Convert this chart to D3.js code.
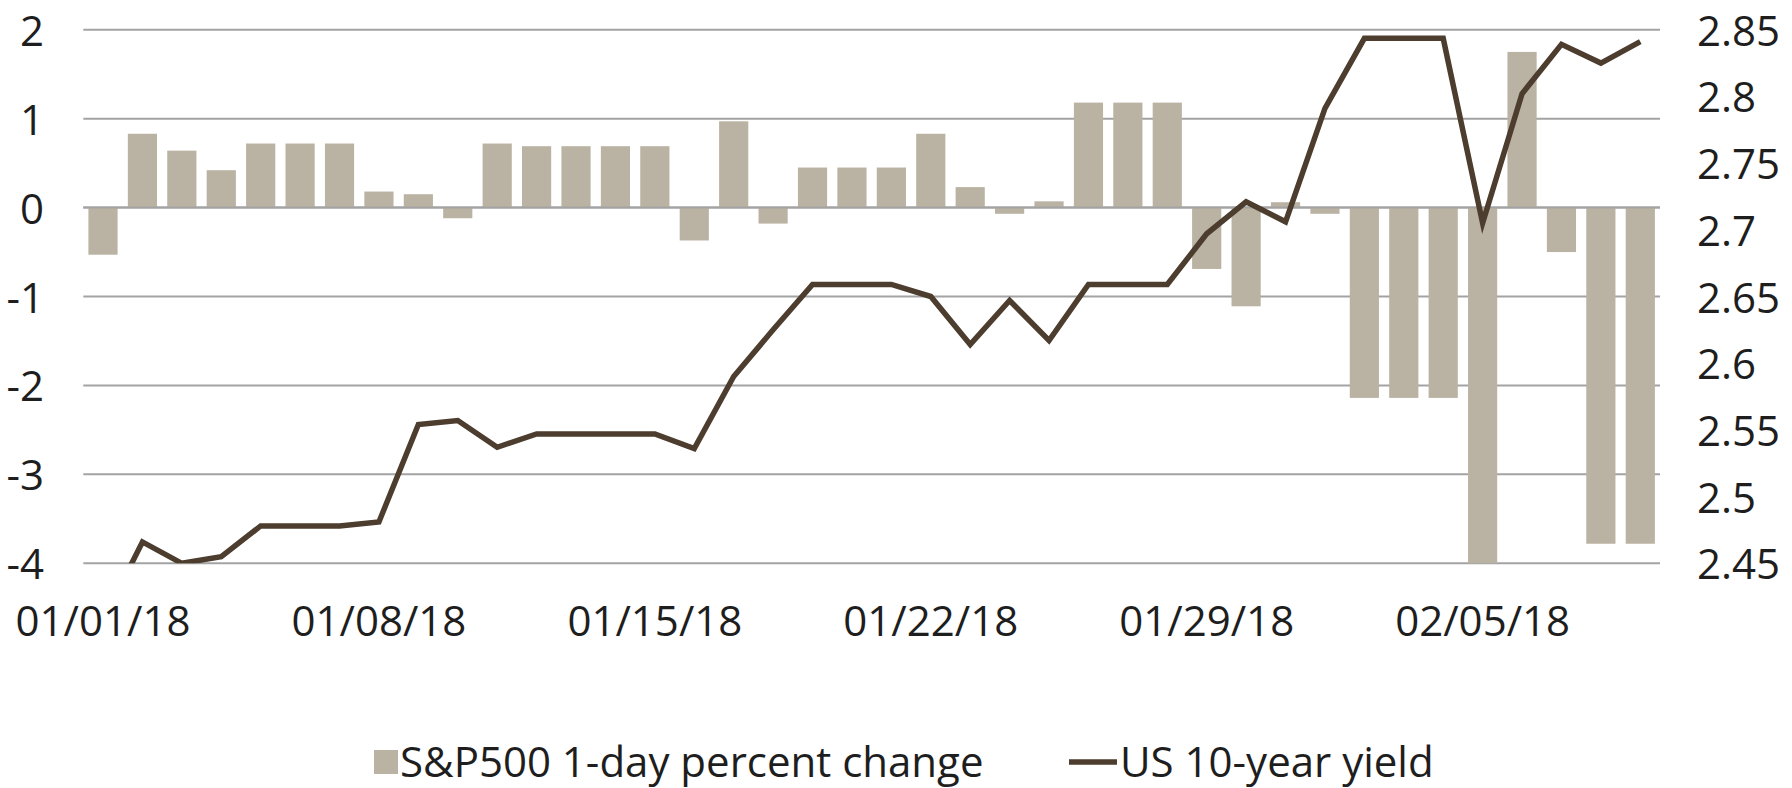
<!DOCTYPE html>
<html>
<head>
<meta charset="utf-8">
<script src="https://cdn.jsdelivr.net/npm/d3@7"></script>
<style>
  body { margin: 0; background: #fff; }
  svg text { font-family: "Open Sans", sans-serif; fill: #1e1e1e; }
</style>
</head>
<body>
<script>
// daily series, 01/01/18 .. 02/09/18
const dates = d3.timeDay.range(new Date(2018, 0, 1), new Date(2018, 1, 10))
const tickLabels = ['01/01/18', '01/08/18', '01/15/18', '01/22/18', '01/29/18', '02/05/18']

const spChange = [
  -0.53, 0.83, 0.64, 0.42, 0.72, 0.72, 0.72, 0.18, 0.15, -0.12,
  0.72, 0.69, 0.69, 0.69, 0.69, -0.37, 0.97, -0.18, 0.45, 0.45,
  0.45, 0.83, 0.23, -0.07, 0.07, 1.18, 1.18, 1.18, -0.69, -1.11,
  0.06, -0.07, -2.14, -2.14, -2.14, -4.1, 1.75, -0.50, -3.78, -3.78
]
const usYield = [
  2.407, 2.466, 2.45, 2.455, 2.478, 2.478, 2.478, 2.481, 2.554, 2.557,
  2.537, 2.547, 2.547, 2.547, 2.547, 2.536, 2.590, 2.625, 2.659, 2.659,
  2.659, 2.650, 2.614, 2.647, 2.617, 2.659, 2.659, 2.659, 2.697, 2.721,
  2.706, 2.791, 2.8435, 2.8435, 2.8435, 2.705, 2.802, 2.839, 2.825, 2.841
]
const leftTicks = [2, 1, 0, -1, -2, -3, -4]
const rightTicks = [2.85, 2.8, 2.75, 2.7, 2.65, 2.6, 2.55, 2.5, 2.45]

const legendItems = ['S&P500 1-day percent change', 'US 10-year yield']

var config = {
  width: 1792,
  height: 788,
  left: 83.3,
  right: 1660,
  top: 29.7,
  bottom: 563.3,
  barColor: '#bab2a2',
  lineColor: '#4c3d2e',
  gridColor: '#a3a3a3',
  fontSize: 42,
}

const fmt = d3.timeFormat('%m/%d/%y')
const cats = dates.map(fmt)

var svg = d3.select('body').append('svg')
  .attr('width', config.width)
  .attr('height', config.height)

const x = d3.scaleBand()
  .domain(cats)
  .range([config.left, config.right])
  .paddingInner(0.26)
  .paddingOuter(0.13)

const yL = d3.scaleLinear().domain([-4, 2]).range([config.bottom, config.top])
const yR = d3.scaleLinear().domain([2.45, 2.85]).range([config.bottom, config.top])

svg.append('clipPath').attr('id', 'plot')
  .append('rect')
  .attr('x', config.left - 2).attr('y', config.top)
  .attr('width', config.right - config.left + 4)
  .attr('height', config.bottom - config.top)

// gridlines
svg.append('g')
  .selectAll('line')
  .data(leftTicks)
  .join('line')
  .attr('x1', config.left).attr('x2', config.right)
  .attr('y1', d => yL(d)).attr('y2', d => yL(d))
  .attr('stroke', config.gridColor)
  .attr('stroke-width', 2)

// left axis (plain hyphen for negatives, like the original)
const leftAxis = d3.axisLeft(yL).tickValues(leftTicks).tickSize(0).tickPadding(0).tickFormat(d => String(d))
svg.append('g')
  .attr('transform', 'translate(44,0)')
  .call(leftAxis)
  .call(g => g.select('.domain').remove())
  .selectAll('text')
  .attr('font-size', config.fontSize)
  .attr('dy', '0.37em')

// right axis
const rightAxis = d3.axisRight(yR).tickValues(rightTicks).tickSize(0).tickPadding(0).tickFormat(d => String(d))
svg.append('g')
  .attr('transform', 'translate(1697,0)')
  .call(rightAxis)
  .call(g => g.select('.domain').remove())
  .selectAll('text')
  .attr('font-size', config.fontSize)
  .attr('dy', '0.37em')

// bottom axis
const bottomAxis = d3.axisBottom(x).tickValues(tickLabels).tickSize(0).tickPadding(0)
svg.append('g')
  .attr('transform', 'translate(0,' + config.bottom + ')')
  .call(bottomAxis)
  .call(g => g.select('.domain').remove())
  .selectAll('text')
  .attr('font-size', config.fontSize)
  .attr('dy', '1.74em')

// bars
svg.append('g')
  .attr('clip-path', 'url(#plot)')
  .selectAll('rect')
  .data(spChange)
  .join('rect')
  .attr('x', (d, i) => x(cats[i]))
  .attr('width', x.bandwidth())
  .attr('y', d => yL(Math.max(0, d)))
  .attr('height', d => Math.abs(yL(d) - yL(0)))
  .attr('fill', config.barColor)

// redraw zero line over bars
svg.append('line')
  .attr('x1', config.left).attr('x2', config.right)
  .attr('y1', yL(0)).attr('y2', yL(0))
  .attr('stroke', config.gridColor)
  .attr('stroke-width', 2)

// yield line
const line = d3.line()
  .x((d, i) => x(cats[i]) + x.bandwidth() / 2)
  .y(d => yR(d))

svg.append('path')
  .datum(usYield)
  .attr('clip-path', 'url(#plot)')
  .attr('d', line)
  .attr('fill', 'none')
  .attr('stroke', config.lineColor)
  .attr('stroke-width', 5.5)
  .attr('stroke-linejoin', 'miter')

// legend
const lg = svg.append('g').attr('transform', 'translate(0,762)')
lg.append('rect')
  .attr('x', 374).attr('y', -12).attr('width', 24).attr('height', 24)
  .attr('fill', config.barColor)
lg.append('text')
  .attr('x', 400).attr('y', 0).attr('dy', '0.35em')
  .attr('font-size', config.fontSize)
  .text(legendItems[0])
lg.append('line')
  .attr('x1', 1069).attr('x2', 1117)
  .attr('y1', 0).attr('y2', 0)
  .attr('stroke', config.lineColor)
  .attr('stroke-width', 5.5)
lg.append('text')
  .attr('x', 1120).attr('y', 0).attr('dy', '0.35em')
  .attr('font-size', config.fontSize)
  .text(legendItems[1])
</script>
</body>
</html>
